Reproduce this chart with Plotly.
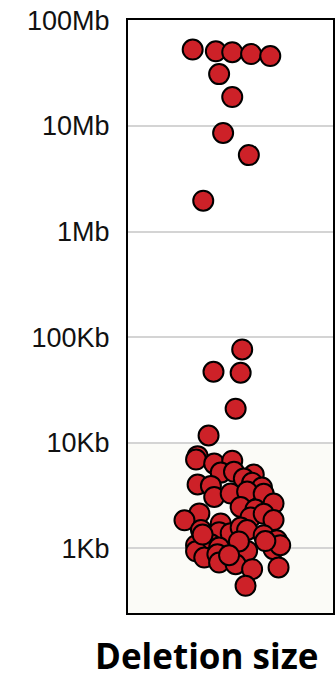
import plotly.graph_objects as go

# Deletion sizes in base pairs, with the horizontal swarm offset of each point
sizes_bp = [
    53_000_000, 51_000_000, 50_000_000, 48_000_000, 46_000_000,
    31_000_000, 18_800_000, 8_600_000, 5_300_000, 1_960_000,
    76_500, 47_000, 46_000, 21_000, 11_700,
    7460, 6920, 6340, 6760, 5210, 5300, 4990, 4570, 4020, 3900,
    4170, 3760, 3060, 3300, 3450, 3280, 2660, 2460, 2330, 2140,
    1840, 1720, 1960, 2120, 1850, 1490, 1420, 1390, 1570, 1490,
    1330, 1190, 1070, 1090, 1016, 937, 817, 877, 733, 944,
    706, 634, 979, 1070, 658, 441, 1170, 1350, 1160, 859,
]
swarm_offset = [
    -0.369, -0.143, 0.017, 0.201, 0.388,
    -0.111, 0.017, -0.072, 0.179, -0.266,
    0.114, -0.166, 0.099, 0.050, -0.214,
    -0.321, -0.336, -0.159, 0.017, -0.095, 0.034, 0.227, 0.130, -0.321, -0.191,
    0.211, 0.307, -0.159, 0.002, 0.162, 0.324, 0.420, 0.099, 0.243, -0.304,
    -0.449, -0.095, 0.195, 0.324, 0.420, -0.288, -0.111, 0.002, 0.099, 0.162,
    0.324, 0.452, -0.336, -0.191, -0.111, -0.336, -0.256, -0.128, -0.111, 0.162,
    0.050, 0.211, 0.420, 0.485, 0.469, 0.147, 0.340, -0.272, 0.082, -0.014,
]

tick_values = [1e3, 1e4, 1e5, 1e6, 1e7, 1e8]
tick_labels = ["1Kb", "10Kb", "100Kb", "1Mb", "10Mb", "100Mb"]

y_lo, y_hi = 2.387, 8.004       # log10 range of the size axis
small_cutoff = 4                 # log10(10Kb): lightly shaded band below it

fig = go.Figure()
fig.add_trace(go.Scatter(
    x=swarm_offset,
    y=sizes_bp,
    mode="markers",
    marker=dict(size=20, color="#cd2128", line=dict(color="black", width=2)),
    hoverinfo="y",
    showlegend=False,
))

fig.add_shape(
    type="rect", xref="paper", yref="paper",
    x0=0, x1=1, y0=0, y1=(small_cutoff - y_lo) / (y_hi - y_lo),
    fillcolor="#fbfbf7", line=dict(width=0), layer="below",
)

fig.add_annotation(
    text="<b>Deletion size</b>", xref="paper", yref="paper",
    x=0.385, y=-0.071, xanchor="center", yanchor="middle",
    showarrow=False, font=dict(family="Open Sans", size=35, color="black"),
)

fig.update_layout(
    width=336, height=682,
    margin=dict(l=128, r=1, t=20, b=69),
    paper_bgcolor="white", plot_bgcolor="white",
    xaxis=dict(
        range=[-1, 1], showticklabels=False, showgrid=False, zeroline=False,
        showline=True, linecolor="black", linewidth=2, mirror=True, ticks="",
    ),
    yaxis=dict(
        type="log", range=[y_lo, y_hi],
        tickvals=tick_values, ticktext=tick_labels,
        showgrid=True, gridcolor="#d4d4d4", gridwidth=2,
        showline=True, linecolor="black", linewidth=2, mirror=True,
        ticks="", ticklabelstandoff=11, zeroline=False,
        tickfont=dict(family="Liberation Sans", size=27, color="#111111"),
    ),
)

fig.write_html("out.html")
